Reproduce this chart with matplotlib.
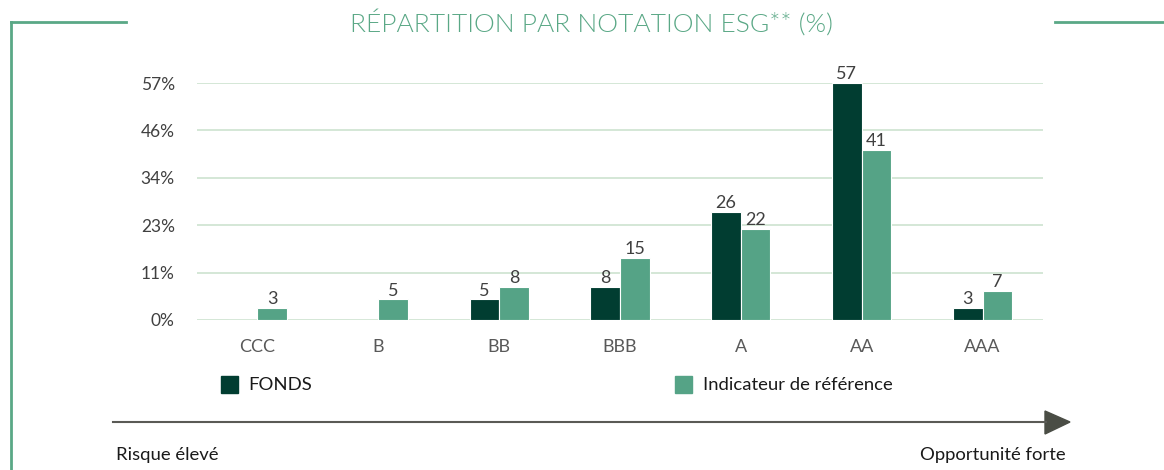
import matplotlib
matplotlib.use("Agg")
import matplotlib.pyplot as plt
from matplotlib.patches import Rectangle, Polygon
from matplotlib.lines import Line2D
import numpy as np

categories = ["CCC", "B", "BB", "BBB", "A", "AA", "AAA"]
fonds = [0, 0, 5, 8, 26, 57, 3]
reference = [3, 5, 8, 15, 22, 41, 7]
ytick_values = [0, 11.4, 22.8, 34.2, 45.6, 57]
ytick_labels = ["0%", "11%", "23%", "34%", "46%", "57%"]
title = "RÉPARTITION PAR NOTATION ESG** (%)"
legend_labels = ["FONDS", "Indicateur de référence"]
axis_left_label = "Risque élevé"
axis_right_label = "Opportunité forte"

C_FONDS = "#013d31"
C_REF = "#55a386"
C_FRAME = "#5aa886"
C_GRID = "#cde3d0"

plt.rcParams['font.family'] = ['Lato', 'DejaVu Sans']

W, H = 1164, 470
fig = plt.figure(figsize=(W / 100, H / 100), dpi=100)

def fx(px):
    return px / W

def fy(py):
    return 1 - py / H

ax = fig.add_axes([fx(197), fy(320), fx(1043) - fx(197), fy(83) - fy(320)])
x = np.arange(len(categories))
bw = 0.245
ax.bar(x - bw / 2, fonds, width=bw, color=C_FONDS, edgecolor="white", linewidth=0.8, zorder=3)
ax.bar(x + bw / 2, reference, width=bw, color=C_REF, edgecolor="white", linewidth=0.8, zorder=3)
for i in range(len(categories)):
    if fonds[i] > 0:
        ax.annotate(str(fonds[i]), (x[i] - bw / 2, fonds[i]), xytext=(0, 0.5), textcoords="offset points",
                    ha="center", va="bottom", fontsize=13, color="#404040")
    if reference[i] > 0:
        ax.annotate(str(reference[i]), (x[i] + bw / 2, reference[i]), xytext=(0, 0.5), textcoords="offset points",
                    ha="center", va="bottom", fontsize=13, color="#404040")

ax.set_xlim(-0.5, len(categories) - 0.5)
ax.set_ylim(0, 57)
ax.set_yticks(ytick_values)
ax.set_yticklabels(ytick_labels, fontsize=12.5, color="#404040")
ax.set_xticks(x)
ax.set_xticklabels(categories, fontsize=13, color="#595959")
ax.tick_params(axis="both", length=0)
ax.tick_params(axis="x", pad=14)
ax.tick_params(axis="y", pad=16)
ax.grid(axis="y", color=C_GRID, linewidth=1.2, zorder=0)
for s in ax.spines.values():
    s.set_visible(False)

# Title and frame
fig.text(fx(591), fy(23), title, ha="center", va="center", fontsize=19, fontweight=300, color=C_FRAME)
fig.add_artist(Line2D([fx(11), fx(11)], [fy(22), 0], color=C_FRAME, linewidth=2))
fig.add_artist(Line2D([fx(11), fx(126)], [fy(22), fy(22)], color=C_FRAME, linewidth=2))
fig.add_artist(Line2D([fx(1055), 1], [fy(22), fy(22)], color=C_FRAME, linewidth=2))

# Legend
fig.add_artist(Rectangle((fx(221), fy(393)), fx(17), fy(376) - fy(393), color=C_FONDS))
fig.text(fx(248), fy(385), legend_labels[0], ha="left", va="center", fontsize=13.3, color="#1a1a1a")
fig.add_artist(Rectangle((fx(675), fy(393)), fx(17), fy(376) - fy(393), color=C_REF))
fig.text(fx(703), fy(385), legend_labels[1], ha="left", va="center", fontsize=13.3, color="#1a1a1a")

# Arrow
fig.add_artist(Line2D([fx(113), fx(1046)], [fy(422), fy(422)], color="#5a5a55", linewidth=1.5))
fig.add_artist(Polygon([(fx(1045), fy(411)), (fx(1070), fy(422)), (fx(1045), fy(434))],
                       closed=True, color="#4a4d45"))
fig.text(fx(116), fy(455), axis_left_label, ha="left", va="center", fontsize=13.3, color="#1a1a1a")
fig.text(fx(1066), fy(455), axis_right_label, ha="right", va="center", fontsize=13.3, color="#1a1a1a")

fig.savefig("out.png", dpi=100)
